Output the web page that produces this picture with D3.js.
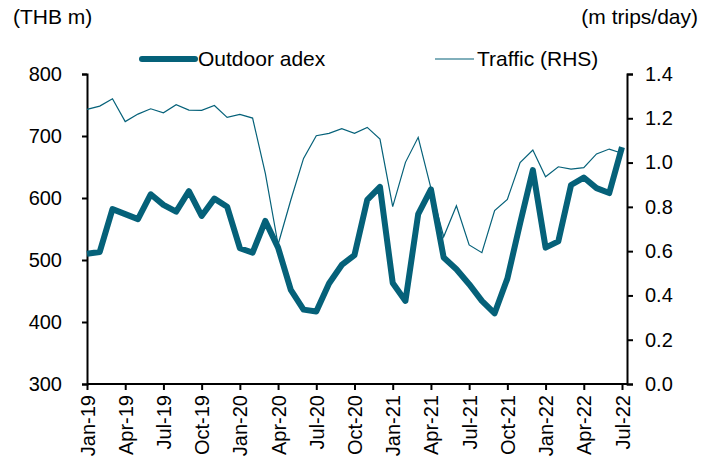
<!DOCTYPE html>
<html>
<head>
<meta charset="utf-8">
<script src="https://cdn.jsdelivr.net/npm/d3@7"></script>
<style>
  body { margin: 0; background: #fff; }
  svg text { font-family: "Liberation Sans", Arial, sans-serif; fill: #000; }
</style>
</head>
<body>
<div id="chart"></div>
<script>
const months = [
  'Jan-19','Feb-19','Mar-19','Apr-19','May-19','Jun-19','Jul-19','Aug-19','Sep-19','Oct-19','Nov-19','Dec-19',
  'Jan-20','Feb-20','Mar-20','Apr-20','May-20','Jun-20','Jul-20','Aug-20','Sep-20','Oct-20','Nov-20','Dec-20',
  'Jan-21','Feb-21','Mar-21','Apr-21','May-21','Jun-21','Jul-21','Aug-21','Sep-21','Oct-21','Nov-21','Dec-21',
  'Jan-22','Feb-22','Mar-22','Apr-22','May-22','Jun-22','Jul-22'
];

// THB m
const adex = [
  510, 513, 582, 574, 566, 606, 589, 578, 611, 571, 599, 586,
  519, 512, 563, 520, 452, 420, 417, 462, 492, 508, 597, 618,
  463, 434, 574, 614, 504, 485, 461, 434, 414, 470, 559, 645,
  520, 530, 621, 633, 616, 608, 682
];

// m trips/day (RHS)
const traffic = [
  1.240, 1.255, 1.288, 1.185, 1.219, 1.243, 1.225, 1.261, 1.237, 1.236, 1.258, 1.204,
  1.218, 1.201, 0.951, 0.630, 0.831, 1.019, 1.121, 1.132, 1.153, 1.132, 1.159, 1.106,
  0.801, 1.001, 1.114, 0.885, 0.665, 0.805, 0.628, 0.593, 0.783, 0.834, 1.000, 1.057,
  0.936, 0.981, 0.970, 0.977, 1.039, 1.061, 1.042
];

const leftTicks = [300, 400, 500, 600, 700, 800];
const rightTicks = [0, 0.2, 0.4, 0.6, 0.8, 1.0, 1.2, 1.4];
const xTickLabels = months.filter((m, i) => i % 3 === 0);

const W = 707, H = 476;
const color = '#056179';
const plotLeft = 87, plotRight = 627, lastX = 622;
const plotTop = 74, plotBottom = 384;

const svg = d3.select('#chart').append('svg')
  .attr('width', W)
  .attr('height', H);

const x = d3.scalePoint()
  .domain(months)
  .range([plotLeft, lastX]);

const yL = d3.scaleLinear().domain([300, 800]).range([plotBottom, plotTop]);
const yR = d3.scaleLinear().domain([0, 1.4]).range([plotBottom, plotTop]);

// left axis
const leftAxis = svg.append('g')
  .attr('transform', `translate(${plotLeft},0)`)
  .call(d3.axisLeft(yL).tickValues(leftTicks).tickSize(5).tickPadding(20).tickFormat(d3.format('d')));

// right axis
const rightAxis = svg.append('g')
  .attr('transform', `translate(${plotRight},0)`)
  .call(d3.axisRight(yR).tickValues(rightTicks).tickSize(6).tickPadding(12).tickFormat(d3.format('.1f')));

// x axis
const xAxis = svg.append('g')
  .attr('transform', `translate(0,${plotBottom})`)
  .call(d3.axisBottom(x).tickValues(xTickLabels).tickSize(6).tickPadding(0));

xAxis.select('.domain').attr('d', `M${plotLeft},0H${plotRight}`);

xAxis.selectAll('.tick text')
  .attr('transform', 'rotate(-90)')
  .attr('text-anchor', 'end')
  .attr('x', -11)
  .attr('y', 0)
  .attr('dy', '0.35em');

[leftAxis, rightAxis, xAxis].forEach(a => {
  a.selectAll('.domain').attr('stroke', '#000').attr('stroke-width', 2);
  a.selectAll('.tick line').attr('stroke', '#000').attr('stroke-width', 2);
  a.selectAll('text').style('font-size', '20px');
});

// lines
const trafficLine = d3.line()
  .x((d, i) => x(months[i]))
  .y(d => yR(d));

const adexLine = d3.line()
  .x((d, i) => x(months[i]))
  .y(d => yL(d));

svg.append('path')
  .datum(traffic)
  .attr('fill', 'none')
  .attr('stroke', color)
  .attr('stroke-width', 1.2)
  .attr('d', trafficLine);

svg.append('path')
  .datum(adex)
  .attr('fill', 'none')
  .attr('stroke', color)
  .attr('stroke-width', 6)
  .attr('stroke-linejoin', 'round')
  .attr('d', adexLine);

// axis titles
svg.append('text').attr('x', 13).attr('y', 24).style('font-size', '21px').text('(THB m)');
svg.append('text').attr('x', 698).attr('y', 24).attr('text-anchor', 'end').style('font-size', '21px').text('(m trips/day)');

// legend
const legend = svg.append('g');
legend.append('line')
  .attr('x1', 142).attr('x2', 195).attr('y1', 59).attr('y2', 59)
  .attr('stroke', color).attr('stroke-width', 6).attr('stroke-linecap', 'round');
legend.append('text').attr('x', 198).attr('y', 66).style('font-size', '21px').text('Outdoor adex');
legend.append('line')
  .attr('x1', 435).attr('x2', 474).attr('y1', 59).attr('y2', 59)
  .attr('stroke', color).attr('stroke-width', 1.2);
legend.append('text').attr('x', 477).attr('y', 66).style('font-size', '21px').text('Traffic (RHS)');
</script>
</body>
</html>
